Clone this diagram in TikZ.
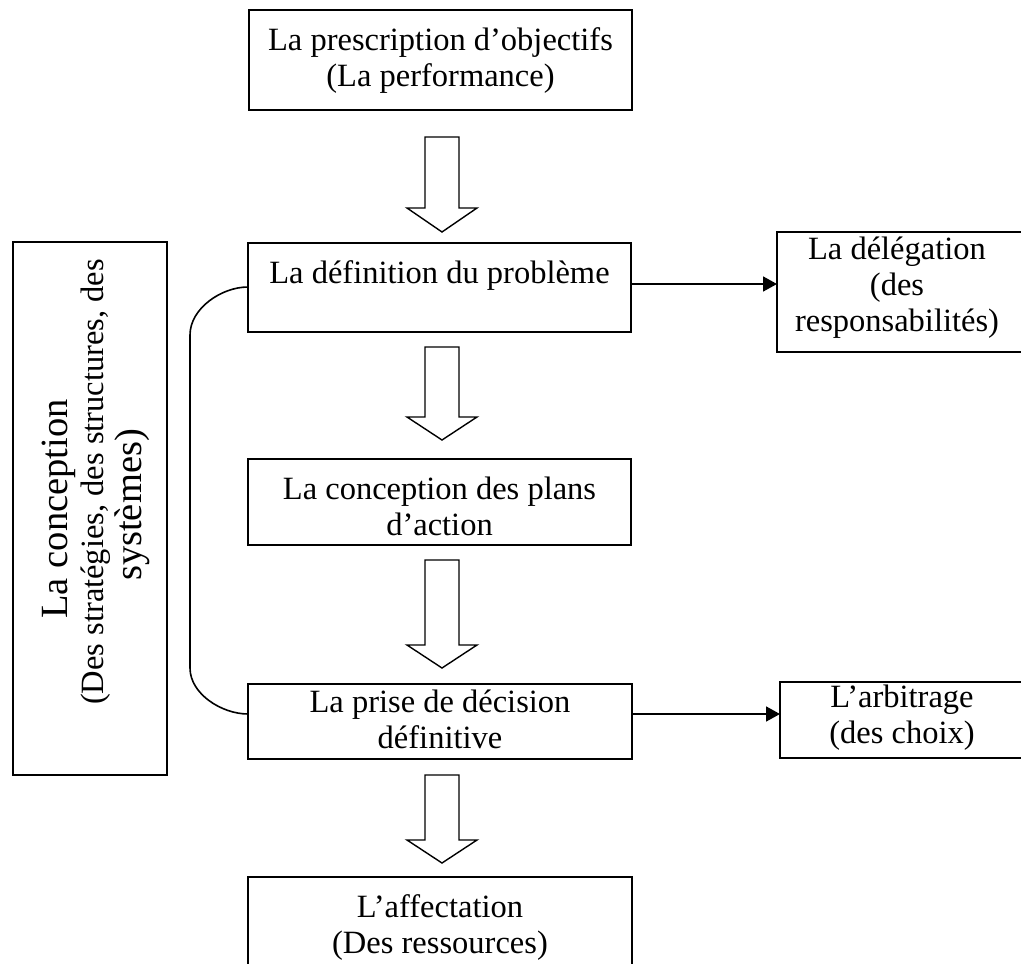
\documentclass[tikz,border=0pt]{standalone}
\usepackage{fontspec}
\setmainfont{Liberation Serif}
\usetikzlibrary{arrows.meta,calc}

\tikzset{
  box/.style={draw, line width=1.6pt, inner sep=0pt, outer sep=0pt},
  lbl/.style={font=\fontsize{32.5}{36}\selectfont, align=center, inner sep=0pt, anchor=north},
  vlbl/.style={inner sep=0pt, anchor=base, rotate=90},
  conn/.style={line width=1.7pt, -{Triangle[length=14pt,width=15pt]}},
  link/.style={line width=1.6pt},
  blk/.style={draw, line width=1.4pt, line join=miter, fill=white}
}

% hollow block arrow pointing down: centre x, top, shoulder, tip
\newcommand{\hollowdown}[4]{%
  \draw[blk] (#1-17,#2) -- (#1+17,#2) -- (#1+17,#3) -- (#1+35,#3)
    -- (#1,#4) -- (#1-35,#3) -- (#1-17,#3) -- cycle;}

\begin{document}
\begin{tikzpicture}[x=1pt,y=-1pt]
\useasboundingbox (0,0) rectangle (1021,964);

% main column
\node[box, minimum width=383pt, minimum height=100pt] (b1) at (440.5,60) {};
\node[lbl] (t1) at ($(b1.north)+(0,14.8)$) {\strut La prescription d’objectifs\\\strut(La performance)};

\node[box, minimum width=383pt, minimum height=89pt] (b2) at (439.5,287.5) {};
\node[lbl] (t2) at ($(b2.north)+(0,14.8)$) {\strut La définition du problème};

\node[box, minimum width=383pt, minimum height=86pt] (b3) at (439.5,502) {};
\node[lbl] (t3) at ($(b3.north)+(0,14.8)$) {\strut La conception des plans\\\strut d’action};

\node[box, minimum width=384pt, minimum height=75pt] (b4) at (440,721.5) {};
\node[lbl] (t4) at ($(b4.north)+(0,2.8)$) {\strut La prise de décision\\\strut définitive};

\node[box, minimum width=384pt, minimum height=123pt] (b5) at (440,938.5) {};
\node[lbl] (t5) at ($(b5.north)+(0,14.8)$) {\strut L’affectation\\\strut(Des ressources)};

% side boxes
\node[box, minimum width=254pt, minimum height=120pt] (d) at (904,292) {};
\node[lbl] (td) at ($(d.north)+(-7,1.8)$) {\strut La délégation\\\strut(des\\\strut responsabilités)};

\node[box, minimum width=251pt, minimum height=76pt] (a) at (905.5,720) {};
\node[lbl] (ta) at ($(a.north)+(-3.5,-0.2)$) {\strut L’arbitrage\\\strut(des choix)};

% vertical box on the left, text set bottom to top
\node[box, minimum width=154pt, minimum height=533pt] (c) at (90,508.5) {};
\node[vlbl, font=\fontsize{38.5}{44}\selectfont] (tc1) at (67,509) {La conception};
\node[vlbl, font=\fontsize{32.5}{36}\selectfont] (tc2) at (103,482) {(Des stratégies, des structures, des};
\node[vlbl, font=\fontsize{38.5}{44}\selectfont] (tc3) at (141,505) {systèmes)};

% block arrows down the column
\hollowdown{442}{137}{208}{232}
\hollowdown{442}{347}{417}{440}
\hollowdown{442}{560}{645}{668}
\hollowdown{442}{775}{840}{863}

% horizontal connectors
\draw[conn] ([yshift=3.5pt]b2.east) coordinate (p2) -- (p2 -| d.west);
\draw[conn] ([yshift=7.5pt]b4.east) coordinate (p4) -- (p4 -| a.west);

% bracket joining the problem definition to the final decision
\draw[link] ([yshift=0.5pt]b2.west) to[out=180,in=90,looseness=0.9] (190,335)
  -- (190,668) to[out=-90,in=180,looseness=0.9] ([yshift=7.5pt]b4.west);
\end{tikzpicture}
\end{document}
